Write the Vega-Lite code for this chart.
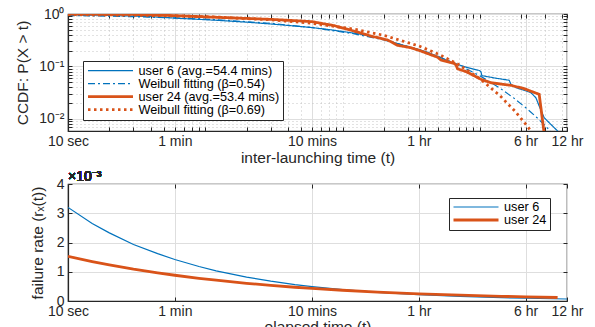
{
  "$schema": "https://vega.github.io/schema/vega-lite/v6.json",
  "background": "white",
  "padding": {"left": 15, "top": 6, "right": 5, "bottom": 0},
  "bounds": "flush",
  "spacing": 53,
  "resolve": {
    "scale": {"color": "independent", "strokeDash": "independent", "strokeWidth": "independent"},
    "legend": {"color": "independent", "strokeDash": "independent", "strokeWidth": "independent"}
  },
  "config": {
    "font": "Liberation Sans",
    "view": {"stroke": "#262626", "strokeWidth": 1.2},
    "axis": {
      "labelFont": "Liberation Sans",
      "labelFontSize": 14,
      "labelColor": "#262626",
      "titleFont": "Liberation Sans",
      "titleFontSize": 15.5,
      "titleFontWeight": "normal",
      "titleColor": "#262626",
      "domainColor": "#262626",
      "domainWidth": 1.2,
      "tickColor": "#262626",
      "tickSize": -4,
      "gridColor": "#dedede",
      "labelFlush": false,
      "labelOverlap": false
    },
    "legend": {"labelFont": "Liberation Sans", "labelColor": "#000000"}
  },
  "vconcat": [
    {
      "width": 499,
      "height": 117,
      "data": {
        "values": [
          {"s": "user 6 (avg.=54.4 mins)", "t": 10, "p": 0.965},
          {"s": "user 6 (avg.=54.4 mins)", "t": 20, "p": 0.94},
          {"s": "user 6 (avg.=54.4 mins)", "t": 40, "p": 0.89},
          {"s": "user 6 (avg.=54.4 mins)", "t": 60, "p": 0.835},
          {"s": "user 6 (avg.=54.4 mins)", "t": 120, "p": 0.76},
          {"s": "user 6 (avg.=54.4 mins)", "t": 200, "p": 0.70},
          {"s": "user 6 (avg.=54.4 mins)", "t": 300, "p": 0.645},
          {"s": "user 6 (avg.=54.4 mins)", "t": 450, "p": 0.59},
          {"s": "user 6 (avg.=54.4 mins)", "t": 600, "p": 0.55},
          {"s": "user 6 (avg.=54.4 mins)", "t": 800, "p": 0.505},
          {"s": "user 6 (avg.=54.4 mins)", "t": 1000, "p": 0.465},
          {"s": "user 6 (avg.=54.4 mins)", "t": 1300, "p": 0.42},
          {"s": "user 6 (avg.=54.4 mins)", "t": 1600, "p": 0.38},
          {"s": "user 6 (avg.=54.4 mins)", "t": 2000, "p": 0.33},
          {"s": "user 6 (avg.=54.4 mins)", "t": 2500, "p": 0.275},
          {"s": "user 6 (avg.=54.4 mins)", "t": 3000, "p": 0.24},
          {"s": "user 6 (avg.=54.4 mins)", "t": 3600, "p": 0.21},
          {"s": "user 6 (avg.=54.4 mins)", "t": 4200, "p": 0.185},
          {"s": "user 6 (avg.=54.4 mins)", "t": 4800, "p": 0.16},
          {"s": "user 6 (avg.=54.4 mins)", "t": 5210, "p": 0.147},
          {"s": "user 6 (avg.=54.4 mins)", "t": 6150, "p": 0.12},
          {"s": "user 6 (avg.=54.4 mins)", "t": 7000, "p": 0.108},
          {"s": "user 6 (avg.=54.4 mins)", "t": 8150, "p": 0.095},
          {"s": "user 6 (avg.=54.4 mins)", "t": 9900, "p": 0.084},
          {"s": "user 6 (avg.=54.4 mins)", "t": 10190, "p": 0.08},
          {"s": "user 6 (avg.=54.4 mins)", "t": 10350, "p": 0.067},
          {"s": "user 6 (avg.=54.4 mins)", "t": 13000, "p": 0.06},
          {"s": "user 6 (avg.=54.4 mins)", "t": 16370, "p": 0.0547},
          {"s": "user 6 (avg.=54.4 mins)", "t": 16860, "p": 0.046},
          {"s": "user 6 (avg.=54.4 mins)", "t": 18330, "p": 0.0395},
          {"s": "user 6 (avg.=54.4 mins)", "t": 21040, "p": 0.0352},
          {"s": "user 6 (avg.=54.4 mins)", "t": 23550, "p": 0.0318},
          {"s": "user 6 (avg.=54.4 mins)", "t": 25640, "p": 0.0254},
          {"s": "user 6 (avg.=54.4 mins)", "t": 27100, "p": 0.0176},
          {"s": "user 6 (avg.=54.4 mins)", "t": 29450, "p": 0.0106},
          {"s": "user 6 (avg.=54.4 mins)", "t": 32000, "p": 0.0085},
          {"s": "user 6 (avg.=54.4 mins)", "t": 36900, "p": 0.0059},
          {"s": "user 6 (avg.=54.4 mins)", "t": 38000, "p": 0.0055},
          {"s": "Weibull fitting (β=0.54)", "t": 10, "p": 0.937},
          {"s": "Weibull fitting (β=0.54)", "t": 20, "p": 0.91},
          {"s": "Weibull fitting (β=0.54)", "t": 30, "p": 0.889},
          {"s": "Weibull fitting (β=0.54)", "t": 60, "p": 0.843},
          {"s": "Weibull fitting (β=0.54)", "t": 120, "p": 0.78},
          {"s": "Weibull fitting (β=0.54)", "t": 300, "p": 0.665},
          {"s": "Weibull fitting (β=0.54)", "t": 600, "p": 0.553},
          {"s": "Weibull fitting (β=0.54)", "t": 1200, "p": 0.422},
          {"s": "Weibull fitting (β=0.54)", "t": 2000, "p": 0.321},
          {"s": "Weibull fitting (β=0.54)", "t": 3600, "p": 0.21},
          {"s": "Weibull fitting (β=0.54)", "t": 5000, "p": 0.155},
          {"s": "Weibull fitting (β=0.54)", "t": 7000, "p": 0.107},
          {"s": "Weibull fitting (β=0.54)", "t": 10000, "p": 0.0667},
          {"s": "Weibull fitting (β=0.54)", "t": 14000, "p": 0.0388},
          {"s": "Weibull fitting (β=0.54)", "t": 18000, "p": 0.0242},
          {"s": "Weibull fitting (β=0.54)", "t": 22000, "p": 0.0158},
          {"s": "Weibull fitting (β=0.54)", "t": 26000, "p": 0.0107},
          {"s": "Weibull fitting (β=0.54)", "t": 30000, "p": 0.0074},
          {"s": "Weibull fitting (β=0.54)", "t": 33000, "p": 0.0057},
          {"s": "user 24 (avg.=53.4 mins)", "t": 10, "p": 1.0},
          {"s": "user 24 (avg.=53.4 mins)", "t": 30, "p": 0.98},
          {"s": "user 24 (avg.=53.4 mins)", "t": 60, "p": 0.93},
          {"s": "user 24 (avg.=53.4 mins)", "t": 145, "p": 0.85},
          {"s": "user 24 (avg.=53.4 mins)", "t": 300, "p": 0.79},
          {"s": "user 24 (avg.=53.4 mins)", "t": 500, "p": 0.736},
          {"s": "user 24 (avg.=53.4 mins)", "t": 600, "p": 0.714},
          {"s": "user 24 (avg.=53.4 mins)", "t": 870, "p": 0.6},
          {"s": "user 24 (avg.=53.4 mins)", "t": 1030, "p": 0.53},
          {"s": "user 24 (avg.=53.4 mins)", "t": 1300, "p": 0.45},
          {"s": "user 24 (avg.=53.4 mins)", "t": 1610, "p": 0.38},
          {"s": "user 24 (avg.=53.4 mins)", "t": 2130, "p": 0.32},
          {"s": "user 24 (avg.=53.4 mins)", "t": 2520, "p": 0.253},
          {"s": "user 24 (avg.=53.4 mins)", "t": 3150, "p": 0.228},
          {"s": "user 24 (avg.=53.4 mins)", "t": 3725, "p": 0.197},
          {"s": "user 24 (avg.=53.4 mins)", "t": 4930, "p": 0.15},
          {"s": "user 24 (avg.=53.4 mins)", "t": 5210, "p": 0.133},
          {"s": "user 24 (avg.=53.4 mins)", "t": 6500, "p": 0.115},
          {"s": "user 24 (avg.=53.4 mins)", "t": 6700, "p": 0.107},
          {"s": "user 24 (avg.=53.4 mins)", "t": 6900, "p": 0.09},
          {"s": "user 24 (avg.=53.4 mins)", "t": 7930, "p": 0.08},
          {"s": "user 24 (avg.=53.4 mins)", "t": 9380, "p": 0.064},
          {"s": "user 24 (avg.=53.4 mins)", "t": 10190, "p": 0.057},
          {"s": "user 24 (avg.=53.4 mins)", "t": 12050, "p": 0.049},
          {"s": "user 24 (avg.=53.4 mins)", "t": 16860, "p": 0.0438},
          {"s": "user 24 (avg.=53.4 mins)", "t": 21040, "p": 0.0378},
          {"s": "user 24 (avg.=53.4 mins)", "t": 27100, "p": 0.0295},
          {"s": "user 24 (avg.=53.4 mins)", "t": 29400, "p": 0.0055},
          {"s": "Weibull fitting (β=0.69)", "t": 10, "p": 0.976},
          {"s": "Weibull fitting (β=0.69)", "t": 30, "p": 0.95},
          {"s": "Weibull fitting (β=0.69)", "t": 60, "p": 0.92},
          {"s": "Weibull fitting (β=0.69)", "t": 120, "p": 0.875},
          {"s": "Weibull fitting (β=0.69)", "t": 300, "p": 0.777},
          {"s": "Weibull fitting (β=0.69)", "t": 600, "p": 0.665},
          {"s": "Weibull fitting (β=0.69)", "t": 1200, "p": 0.518},
          {"s": "Weibull fitting (β=0.69)", "t": 2000, "p": 0.393},
          {"s": "Weibull fitting (β=0.69)", "t": 3600, "p": 0.246},
          {"s": "Weibull fitting (β=0.69)", "t": 5000, "p": 0.172},
          {"s": "Weibull fitting (β=0.69)", "t": 7000, "p": 0.109},
          {"s": "Weibull fitting (β=0.69)", "t": 10000, "p": 0.0586},
          {"s": "Weibull fitting (β=0.69)", "t": 14000, "p": 0.0279},
          {"s": "Weibull fitting (β=0.69)", "t": 18000, "p": 0.0142},
          {"s": "Weibull fitting (β=0.69)", "t": 22000, "p": 0.0075},
          {"s": "Weibull fitting (β=0.69)", "t": 24500, "p": 0.0052}
        ]
      },
      "resolve": {"axis": {"x": "independent", "y": "independent"}},
      "layer": [
        {
          "encoding": {
            "x": {
              "field": "t", "type": "quantitative",
              "scale": {"type": "log", "domain": [10, 43200], "nice": false},
              "axis": {
                "title": "inter-launching time (t)",
                "values": [10,20,30,40,50,60,70,80,90,100,200,300,400,500,600,700,800,900,1000,2000,3000,3600,4000,5000,6000,7000,8000,9000,10000,20000,21600,30000,40000,43200],
                "labelExpr": "datum.value==10?'10 sec':datum.value==60?'1 min':datum.value==600?'10 mins':datum.value==3600?'1 hr':datum.value==21600?'6 hr':datum.value==43200?'12 hr':''",
                "labelPadding": 7,
                "titlePadding": 2,
                "gridDash": {"condition": {"test": "indexof([10,60,600,3600,21600,43200], datum.value) >= 0", "value": []}, "value": [1, 3]},
                "gridColor": {"condition": {"test": "indexof([10,60,600,3600,21600,43200], datum.value) >= 0", "value": "#dedede"}, "value": "#c4c4c4"}
              }
            },
            "y": {
              "field": "p", "type": "quantitative",
              "scale": {"type": "log", "domain": [0.0059, 1], "nice": false},
              "axis": {
                "title": "CCDF: P(X > t)",
                "values": [0.006,0.007,0.008,0.009,0.01,0.02,0.03,0.04,0.05,0.06,0.07,0.08,0.09,0.1,0.2,0.3,0.4,0.5,0.6,0.7,0.8,0.9,1],
                "labelExpr": "datum.value==1?'10⁰':datum.value==0.1?'10⁻¹':datum.value==0.01?'10⁻²':''",
                "labelPadding": 8,
                "titlePadding": 8,
                "gridDash": {"condition": {"test": "datum.value==1||datum.value==0.1||datum.value==0.01", "value": []}, "value": [1, 3]},
                "gridColor": {"condition": {"test": "datum.value==1||datum.value==0.1||datum.value==0.01", "value": "#dedede"}, "value": "#c4c4c4"}
              }
            },
            "color": {
              "field": "s", "type": "nominal",
              "scale": {"domain": ["user 6 (avg.=54.4 mins)", "Weibull fitting (β=0.54)", "user 24 (avg.=53.4 mins)", "Weibull fitting (β=0.69)"], "range": ["#0072BD", "#0072BD", "#D95319", "#D95319"]},
              "legend": {"orient": "none", "legendX": 15, "legendY": 47, "title": null, "symbolType": "stroke", "symbolSize": 2025, "clipHeight": 12.2, "labelFontSize": 12.7, "labelOffset": 4, "labelLimit": 300, "strokeColor": "#262626", "fillColor": "white", "padding": 3.5, "rowPadding": 0}
            },
            "strokeDash": {
              "field": "s", "type": "nominal",
              "scale": {"domain": ["user 6 (avg.=54.4 mins)", "Weibull fitting (β=0.54)", "user 24 (avg.=53.4 mins)", "Weibull fitting (β=0.69)"], "range": [[1, 0], [7, 3, 2, 3], [1, 0], [2.5, 3.5]]},
              "legend": {"orient": "none", "legendX": 15, "legendY": 47, "title": null, "symbolType": "stroke", "symbolSize": 2025, "clipHeight": 12.2, "labelFontSize": 12.7, "labelOffset": 4, "labelLimit": 300, "strokeColor": "#262626", "fillColor": "white", "padding": 3.5, "rowPadding": 0}
            },
            "strokeWidth": {
              "field": "s", "type": "nominal",
              "scale": {"type": "ordinal", "domain": ["user 6 (avg.=54.4 mins)", "Weibull fitting (β=0.54)", "user 24 (avg.=53.4 mins)", "Weibull fitting (β=0.69)"], "range": [1.2, 1.2, 2.8, 2.8]},
              "legend": {"orient": "none", "legendX": 15, "legendY": 47, "title": null, "symbolType": "stroke", "symbolSize": 2025, "clipHeight": 12.2, "labelFontSize": 12.7, "labelOffset": 4, "labelLimit": 300, "strokeColor": "#262626", "fillColor": "white", "padding": 3.5, "rowPadding": 0}
            }
          },
          "layer": [
            {"transform": [{"filter": "datum.s === 'user 6 (avg.=54.4 mins)'"}], "mark": {"type": "line", "clip": true}},
            {"transform": [{"filter": "datum.s === 'Weibull fitting (β=0.54)'"}], "mark": {"type": "line", "clip": true}},
            {"transform": [{"filter": "datum.s === 'user 24 (avg.=53.4 mins)'"}], "mark": {"type": "line", "clip": true}},
            {"transform": [{"filter": "datum.s === 'Weibull fitting (β=0.69)'"}], "mark": {"type": "line", "clip": true}}
          ]
        },
        {
          "transform": [{"filter": "datum.s === 'user 6 (avg.=54.4 mins)'"}],
          "mark": {"type": "line", "opacity": 0, "clip": true},
          "encoding": {
            "x": {
              "field": "t", "type": "quantitative",
              "scale": {"type": "log", "domain": [10, 43200], "nice": false},
              "axis": {"orient": "top", "title": null, "labels": false, "grid": false, "domain": false, "values": [10,20,30,40,50,60,70,80,90,100,200,300,400,500,600,700,800,900,1000,2000,3000,3600,4000,5000,6000,7000,8000,9000,10000,20000,21600,30000,40000,43200]}
            },
            "y": {
              "field": "p", "type": "quantitative",
              "scale": {"type": "log", "domain": [0.0059, 1], "nice": false},
              "axis": {"orient": "right", "title": null, "labels": false, "grid": false, "domain": false, "values": [0.006,0.007,0.008,0.009,0.01,0.02,0.03,0.04,0.05,0.06,0.07,0.08,0.09,0.1,0.2,0.3,0.4,0.5,0.6,0.7,0.8,0.9,1]}
            }
          }
        }
      ]
    },
    {
      "width": 499,
      "height": 117,
      "data": {
        "values": [
          {"u": "user 6", "t": 10, "r": 0.0032},
          {"u": "user 6", "t": 15, "r": 0.00265},
          {"u": "user 6", "t": 20, "r": 0.00233},
          {"u": "user 6", "t": 30, "r": 0.00193},
          {"u": "user 6", "t": 45, "r": 0.00162},
          {"u": "user 6", "t": 60, "r": 0.00142},
          {"u": "user 6", "t": 90, "r": 0.00118},
          {"u": "user 6", "t": 120, "r": 0.00103},
          {"u": "user 6", "t": 200, "r": 0.000816},
          {"u": "user 6", "t": 300, "r": 0.000677},
          {"u": "user 6", "t": 450, "r": 0.000559},
          {"u": "user 6", "t": 600, "r": 0.00049},
          {"u": "user 6", "t": 1000, "r": 0.000387},
          {"u": "user 6", "t": 1800, "r": 0.000296},
          {"u": "user 6", "t": 3600, "r": 0.000215},
          {"u": "user 6", "t": 7200, "r": 0.000156},
          {"u": "user 6", "t": 14400, "r": 0.000114},
          {"u": "user 6", "t": 21600, "r": 0.000094},
          {"u": "user 6", "t": 43200, "r": 0.000068},
          {"u": "user 24", "t": 10, "r": 0.00153},
          {"u": "user 24", "t": 15, "r": 0.00135},
          {"u": "user 24", "t": 20, "r": 0.001234},
          {"u": "user 24", "t": 30, "r": 0.001088},
          {"u": "user 24", "t": 45, "r": 0.000962},
          {"u": "user 24", "t": 60, "r": 0.00088},
          {"u": "user 24", "t": 90, "r": 0.000776},
          {"u": "user 24", "t": 120, "r": 0.00071},
          {"u": "user 24", "t": 200, "r": 0.000606},
          {"u": "user 24", "t": 300, "r": 0.000534},
          {"u": "user 24", "t": 450, "r": 0.00047},
          {"u": "user 24", "t": 600, "r": 0.00043},
          {"u": "user 24", "t": 1000, "r": 0.000367},
          {"u": "user 24", "t": 1800, "r": 0.000306},
          {"u": "user 24", "t": 3600, "r": 0.000247},
          {"u": "user 24", "t": 7200, "r": 0.000199},
          {"u": "user 24", "t": 14400, "r": 0.000161},
          {"u": "user 24", "t": 21600, "r": 0.000142},
          {"u": "user 24", "t": 36900, "r": 0.00012}
        ]
      },
      "resolve": {"axis": {"x": "independent", "y": "independent"}},
      "layer": [
        {
          "encoding": {
            "x": {
              "field": "t", "type": "quantitative",
              "scale": {"type": "log", "domain": [10, 43200], "nice": false},
              "axis": {
                "title": "elapsed time (t)",
                "values": [10, 60, 600, 3600, 21600, 43200],
                "labelExpr": "datum.value==10?'10 sec':datum.value==60?'1 min':datum.value==600?'10 mins':datum.value==3600?'1 hr':datum.value==21600?'6 hr':'12 hr'",
                "labelPadding": 7,
                "titlePadding": 1
              }
            },
            "y": {
              "field": "r", "type": "quantitative",
              "scale": {"domain": [0, 0.004], "nice": false},
              "axis": {
                "title": "failure rate (rₓ(t))",
                "values": [0, 0.001, 0.002, 0.003, 0.004],
                "labelExpr": "format(datum.value*1000, 'd')",
                "labelPadding": 8,
                "titlePadding": 11
              }
            },
            "color": {
              "field": "u", "type": "nominal",
              "scale": {"domain": ["user 6", "user 24"], "range": ["#0072BD", "#D95319"]},
              "legend": {"orient": "none", "legendX": 381, "legendY": 14, "title": null, "symbolType": "stroke", "symbolSize": 2025, "clipHeight": 12, "labelFontSize": 12.7, "labelOffset": 4, "strokeColor": "#262626", "fillColor": "white", "padding": 3, "rowPadding": 0}
            },
            "strokeWidth": {
              "field": "u", "type": "nominal",
              "scale": {"type": "ordinal", "domain": ["user 6", "user 24"], "range": [1.2, 2.8]},
              "legend": {"orient": "none", "legendX": 381, "legendY": 14, "title": null, "symbolType": "stroke", "symbolSize": 2025, "clipHeight": 12, "labelFontSize": 12.7, "labelOffset": 4, "strokeColor": "#262626", "fillColor": "white", "padding": 3, "rowPadding": 0}
            }
          },
          "layer": [
            {"transform": [{"filter": "datum.u === 'user 6'"}], "mark": {"type": "line", "clip": true}},
            {"transform": [{"filter": "datum.u === 'user 24'"}], "mark": {"type": "line", "clip": true}},
            {
              "mark": {"type": "text", "align": "left", "baseline": "alphabetic", "dy": -3, "fontSize": 14, "font": "Liberation Sans"},
              "encoding": {
                "x": {"datum": 10},
                "y": {"datum": 0.004},
                "text": {"value": "×10⁻³"},
                "color": {"value": "#262626"},
                "strokeWidth": {"value": 0}
              }
            }
          ]
        },
        {
          "transform": [{"filter": "datum.u === 'user 6'"}],
          "mark": {"type": "line", "opacity": 0, "clip": true},
          "encoding": {
            "x": {
              "field": "t", "type": "quantitative",
              "scale": {"type": "log", "domain": [10, 43200], "nice": false},
              "axis": {"orient": "top", "title": null, "labels": false, "grid": false, "domain": false, "values": [10, 60, 600, 3600, 21600, 43200]}
            },
            "y": {
              "field": "r", "type": "quantitative",
              "scale": {"domain": [0, 0.004], "nice": false},
              "axis": {"orient": "right", "title": null, "labels": false, "grid": false, "domain": false, "values": [0, 0.001, 0.002, 0.003, 0.004]}
            }
          }
        }
      ]
    }
  ]
}
